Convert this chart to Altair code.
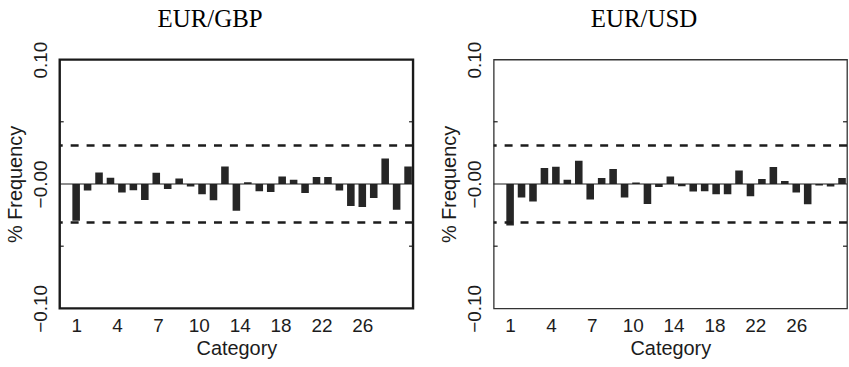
import altair as alt
import pandas as pd
import numpy as np

categories = list(range(1, 31))
eur_gbp = [-0.0296, -0.0053, 0.0093, 0.0051, -0.0069, -0.0051, -0.0128, 0.0091, -0.0040, 0.0045,
           -0.0021, -0.0083, -0.0131, 0.0141, -0.0216, 0.0013, -0.0059, -0.0064, 0.0061, 0.0035,
           -0.0072, 0.0056, 0.0056, -0.0053, -0.0176, -0.0184, -0.0112, 0.0205, -0.0208, 0.0141]
eur_usd = [-0.0333, -0.0109, -0.0141, 0.0128, 0.0139, 0.0035, 0.0187, -0.0125, 0.0048, 0.0120,
           -0.0109, 0.0011, -0.0160, -0.0024, 0.0061, -0.0019, -0.0061, -0.0059, -0.0083, -0.0083,
           0.0109, -0.0099, 0.0040, 0.0136, 0.0024, -0.0069, -0.0163, -0.0013, -0.0021, 0.0048]
x_tick_labels = ["1", "4", "7", "10", "14", "18", "22", "26"]
y_tick_values = [-0.10, -0.05, 0.0, 0.05, 0.10]
inner_tick_values = [-0.05, 0.05]
band_levels = [0.031, -0.031]
titles = ["EUR/GBP", "EUR/USD"]

W, H = 355, 250
SANS = "Liberation Sans"
INK = "#1c1c1c"

x_positions = list(np.linspace(1, 26, len(x_tick_labels)))
label_arr = "[" + ",".join("'" + s + "'" for s in x_tick_labels) + "]"
x_label_expr = f"{label_arr}[round((datum.value - 1) * {len(x_tick_labels) - 1} / 25)]"

x_scale = alt.Scale(domain=[0, 30], nice=False, zero=False)
y_scale = alt.Scale(domain=[-0.1, 0.1], nice=False, zero=False)

y_axis = alt.Axis(values=y_tick_values,
                  labelExpr="datum.value == 0 ? '\u22120.00' : (abs(datum.value) > 0.09 ? format(datum.value, '.2f') : '')",
                  labelAngle=270, labelAlign="center", labelBaseline="alphabetic",
                  labelPadding=13, labelFontSize=19, labelFont=SANS, labelColor=INK,
                  labelOverlap=False, labelFlush=False, ticks=False, domain=False, grid=False,
                  title="% Frequency", titleFont=SANS, titleFontSize=20,
                  titleFontWeight="normal", titleColor=INK, titlePadding=6)
x_axis = alt.Axis(values=x_positions, labelExpr=x_label_expr, ticks=False, domain=False,
                  grid=False, labelFontSize=19, labelFont=SANS, labelColor=INK,
                  labelPadding=8, labelFlush=False, labelOverlap=False,
                  title="Category", titleFont=SANS, titleFontSize=20,
                  titleFontWeight="normal", titleColor=INK, titlePadding=3)


def panel(vals, title, frame_width, frame_color):
    df = pd.DataFrame({"cat": categories, "val": vals})
    y = alt.Y("val:Q", scale=y_scale, axis=y_axis)
    bars = alt.Chart(df).mark_bar(color="#262626", size=7.6, clip=True).encode(
        x=alt.X("cat:Q", scale=x_scale, axis=x_axis), y=y, y2=alt.datum(0))
    zero = alt.Chart(pd.DataFrame({"val": [0.0]})).mark_rule(color=INK, strokeWidth=1.2).encode(y=y)
    bands = alt.Chart(pd.DataFrame({"val": band_levels})).mark_rule(
        color=INK, strokeWidth=2.5, strokeDash=[8, 8]).encode(y=y)
    tdf = pd.DataFrame({"val": inner_tick_values})
    lt = alt.Chart(tdf).mark_rule(color=INK, strokeWidth=1.2).encode(
        y=y, x=alt.value(0), x2=alt.value(4))
    rt = alt.Chart(tdf).mark_rule(color=INK, strokeWidth=1.2).encode(
        y=y, x=alt.value(W - 4), x2=alt.value(W))
    return alt.layer(bars, zero, bands, lt, rt).properties(
        width=W, height=H,
        view=alt.ViewBackground(stroke=frame_color, strokeWidth=frame_width, fill="white"),
        title=alt.TitleParams(title, font="Liberation Serif", fontSize=25, fontWeight="normal",
                              color="black", anchor="middle", frame="bounds", offset=9))


chart = alt.hconcat(
    panel(eur_gbp, titles[0], 2.4, "#1a1a1a"),
    panel(eur_usd, titles[1], 1.3, "#333333"),
    spacing=23,
).properties(padding={"left": 4, "top": 5, "right": 0, "bottom": 0},
             background="white")

chart.save("out.html", embed_options={"renderer": "svg", "actions": False})
